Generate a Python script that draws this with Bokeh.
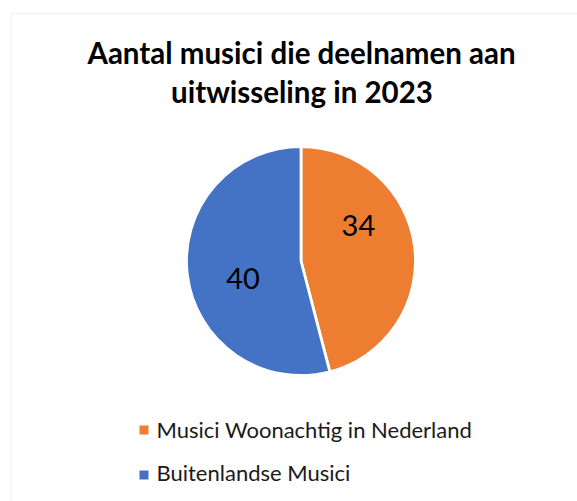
import math
from bokeh.plotting import figure
from bokeh.models import Range1d, BoxAnnotation, ColumnDataSource
from bokeh.core.properties import value
from bokeh.embed import file_html
from bokeh.resources import INLINE

# ---- data ----
categories = ["Musici Woonachtig in Nederland", "Buitenlandse Musici"]
counts = [34, 40]
colors = ["#ED7D31", "#4472C4"]
title_lines = ["Aantal musici die deelnamen aan", "uitwisseling in 2023"]

# ---- layout (pixel space, y measured upward from bottom) ----
W, H = 577, 501
cx, cy, R = 300.5, 240.5, 114.5
FONT = "Lato"

p = figure(width=W, height=H, output_backend="svg", toolbar_location=None,
           x_range=Range1d(0, W), y_range=Range1d(0, H), min_border=0)
p.axis.visible = False
p.grid.visible = False
p.outline_line_color = None
p.background_fill_color = "white"
p.border_fill_color = "white"

p.add_layout(BoxAnnotation(left=11, right=W + 50, top=H - 13, bottom=-50,
                           fill_alpha=0, line_color="#d9d9d9", line_width=1.5))

# pie, clockwise from 12 o'clock
total = sum(counts)
starts, ends = [], []
a = math.pi / 2
for c in counts:
    starts.append(a)
    a -= 2 * math.pi * c / total
    ends.append(a)
src = ColumnDataSource(dict(start=starts, end=ends, color=colors,
                            x=[cx] * len(counts), y=[cy] * len(counts)))
p.wedge(x="x", y="y", radius=R, radius_units="screen", start_angle="start",
        end_angle="end", direction="clock", fill_color="color",
        line_color="white", line_width=2.8, source=src)

# data labels (Excel best-fit positions)
label_angles = [31, 198]
label_dist = [67, 61]
lx = [cx + d * math.cos(math.radians(t)) for d, t in zip(label_dist, label_angles)]
ly = [cy + 1 + d * math.sin(math.radians(t)) for d, t in zip(label_dist, label_angles)]
p.text(x=lx, y=ly, text=[str(c) for c in counts],
       text_font=value(FONT), text_font_size="29px", text_color="black",
       text_align="center", text_baseline="middle")

# title
p.text(x=[301, 301.5], y=[449, 410], text=title_lines,
       text_font=value(FONT), text_font_size="29.5px", text_font_style="bold",
       text_color="black", text_align="center", text_baseline="alphabetic")

# legend
leg_sq_y = [71.5 - 45 * i for i in range(len(categories))]
leg_txt_y = [72.2 - 43.3 * i for i in range(len(categories))]
p.scatter(x=[143.5] * len(categories), y=leg_sq_y, marker="square", size=9,
          fill_color=colors, line_color=None)
p.text(x=[156] * len(categories), y=leg_txt_y, text=categories,
       text_font=value(FONT), text_font_size="22px", text_color="#1a1a1a",
       text_align="left", text_baseline="alphabetic")

open("out.html", "w").write(file_html(p, INLINE))
